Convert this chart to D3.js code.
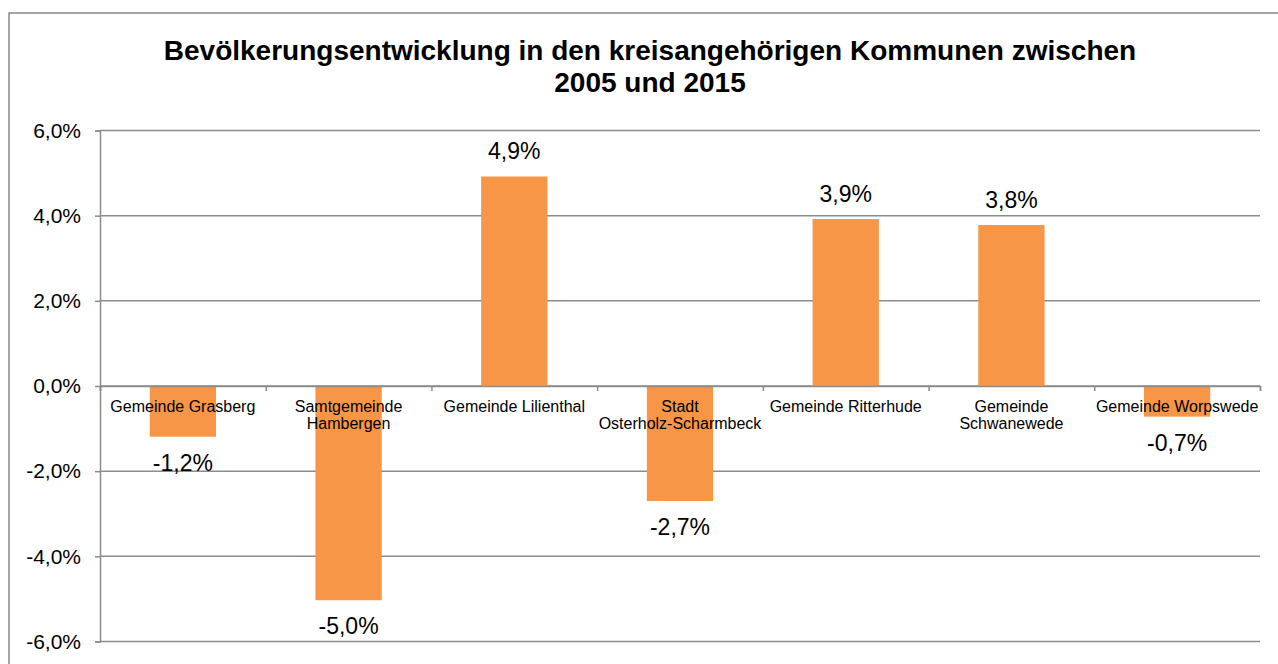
<!DOCTYPE html>
<html>
<head>
<meta charset="utf-8">
<script src="https://cdn.jsdelivr.net/npm/d3@7"></script>
<style>
  body { margin: 0; background: #fff; }
  text { font-family: "Liberation Sans", Arial, sans-serif; fill: #000; }
</style>
</head>
<body>
<svg id="chart"></svg>
<script>
var categories = ["Gemeinde Grasberg", "Samtgemeinde Hambergen", "Gemeinde Lilienthal",
    "Stadt Osterholz-Scharmbeck", "Gemeinde Ritterhude", "Gemeinde Schwanewede", "Gemeinde Worpswede"];
var values = [-1.19, -5.03, 4.92, -2.70, 3.92, 3.78, -0.72];
var yTicks = [-6, -4, -2, 0, 2, 4, 6];
var titleLines = ["Bevölkerungsentwicklung in den kreisangehörigen Kommunen zwischen", "2005 und 2015"];

function fmt(v) {
    return v.toFixed(1).replace(".", ",") + "%";
}

function draw_chart() {
    var width = 1278, height = 664;
    var plotLeft = 100, plotRight = 1260, plotTop = 130.5, plotBottom = 641.5;
    var gridColor = "#8c8c8c";

    var svg = d3.select("#chart")
        .attr("width", width)
        .attr("height", height);

    // outer frame
    svg.append("rect")
        .attr("x", 9).attr("y", 13)
        .attr("width", 1300).attr("height", 700)
        .attr("fill", "none")
        .attr("stroke", "#888")
        .attr("stroke-width", 1.5);

    // title
    svg.append("text")
        .attr("text-anchor", "middle")
        .attr("font-weight", "bold")
        .attr("font-size", "28px")
        .selectAll("tspan")
        .data(titleLines)
        .enter().append("tspan")
        .attr("x", 650)
        .attr("y", function(d, i) { return 59.5 + i * 32; })
        .text(function(d) { return d; });

    var y = d3.scaleLinear().domain([-6, 6]).range([plotBottom, plotTop]);
    var x = d3.scaleBand().domain(categories).range([plotLeft, plotRight])
        .paddingInner(0.6).paddingOuter(0.3);
    var xEdge = d3.scaleLinear().domain([0, categories.length]).range([plotLeft, plotRight]);

    // gridlines
    svg.append("g")
        .selectAll("line")
        .data(yTicks)
        .enter().append("line")
        .attr("x1", plotLeft).attr("x2", plotRight)
        .attr("y1", function(d) { return y(d); })
        .attr("y2", function(d) { return y(d); })
        .attr("stroke", gridColor)
        .attr("stroke-width", 1.5);

    // bars
    svg.append("g")
        .selectAll("rect")
        .data(values)
        .enter().append("rect")
        .attr("x", function(d, i) { return x(categories[i]); })
        .attr("y", function(d) { return y(Math.max(0, d)); })
        .attr("width", x.bandwidth())
        .attr("height", function(d) { return Math.abs(y(d) - y(0)); })
        .attr("fill", "#f79646");

    // y axis
    var yAxis = svg.append("g")
        .attr("transform", "translate(" + plotLeft + ",0)")
        .call(d3.axisLeft(y).tickValues(yTicks).tickSize(5).tickPadding(14).tickFormat(fmt));
    yAxis.selectAll("path, line").attr("stroke", gridColor).attr("stroke-width", 1.5);
    yAxis.selectAll("text")
        .attr("font-size", "21px")
        .attr("font-family", "Liberation Sans, Arial, sans-serif")
        .attr("fill", "#000");

    // x axis at zero
    var xAxis = svg.append("g")
        .attr("transform", "translate(0," + y(0) + ")")
        .call(d3.axisBottom(xEdge).tickValues(d3.range(categories.length + 1)).tickSize(5).tickFormat(""));
    xAxis.selectAll("path, line").attr("stroke", gridColor).attr("stroke-width", 1.5);

    // category labels, wrapped to the band step
    var labelG = svg.append("g").attr("font-size", "16px").attr("text-anchor", "middle");
    categories.forEach(function(name) {
        var t = labelG.append("text");
        var cx = x(name) + x.bandwidth() / 2;
        var words = name.split(" ");
        var lines = [];
        var line = [];
        words.forEach(function(w) {
            line.push(w);
            t.text(line.join(" "));
            if (t.node().getComputedTextLength() > x.step() && line.length > 1) {
                line.pop();
                lines.push(line.join(" "));
                line = [w];
            }
        });
        lines.push(line.join(" "));
        t.text(null);
        lines.forEach(function(l, i) {
            t.append("tspan").attr("x", cx).attr("y", y(0) + 25.5 + i * 17.7).text(l);
        });
    });

    // value labels
    svg.append("g")
        .attr("font-size", "23px")
        .attr("text-anchor", "middle")
        .selectAll("text")
        .data(values)
        .enter().append("text")
        .attr("x", function(d, i) { return x(categories[i]) + x.bandwidth() / 2; })
        .attr("y", function(d) { return d >= 0 ? y(d) - 17 : y(d) + 34; })
        .text(fmt);
}

draw_chart();
</script>
</body>
</html>
